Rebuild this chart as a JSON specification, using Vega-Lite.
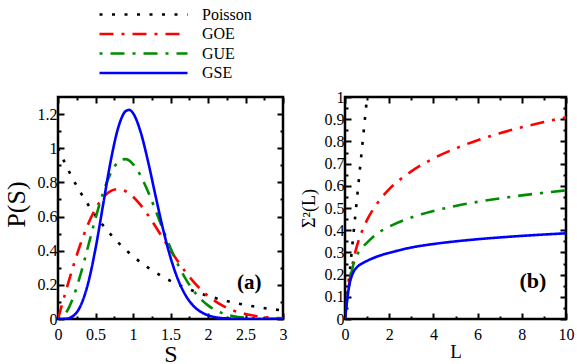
{
  "$schema": "https://vega.github.io/schema/vega-lite/v6.json",
  "padding": {"left": 1, "top": 5, "right": 5, "bottom": 2},
  "bounds": "flush",
  "spacing": 62,
  "background": "white",
  "config": {
    "view": {"stroke": "black", "strokeWidth": 2.5},
    "axis": {"grid": false, "domain": false, "labelFont": "Liberation Serif", "titleFont": "Liberation Serif", "labelFontSize": 16, "labelColor": "black", "titleColor": "black", "tickColor": "black", "tickWidth": 2, "titleFontWeight": "normal", "labelFlush": false, "labelOverlap": false, "format": "~r"},
    "legend": {"labelFont": "Liberation Serif", "labelFontSize": 16, "labelColor": "black", "rowPadding": 2}
  },
  "datasets": {
    "ps": [
      {"m": "Poisson", "S": 0, "P": 1}, {"m": "Poisson", "S": 0.2, "P": 0.8187}, {"m": "Poisson", "S": 0.4, "P": 0.6703}, {"m": "Poisson", "S": 0.6, "P": 0.5488}, {"m": "Poisson", "S": 0.8, "P": 0.4493}, {"m": "Poisson", "S": 1.0, "P": 0.3679}, {"m": "Poisson", "S": 1.2, "P": 0.3012}, {"m": "Poisson", "S": 1.4, "P": 0.2466}, {"m": "Poisson", "S": 1.6, "P": 0.2019}, {"m": "Poisson", "S": 1.8, "P": 0.1653}, {"m": "Poisson", "S": 2.0, "P": 0.1353}, {"m": "Poisson", "S": 2.2, "P": 0.1108}, {"m": "Poisson", "S": 2.4, "P": 0.0907}, {"m": "Poisson", "S": 2.6, "P": 0.0743}, {"m": "Poisson", "S": 2.8, "P": 0.0608}, {"m": "Poisson", "S": 3.0, "P": 0.0498},
      {"m": "GOE", "S": 0, "P": 0}, {"m": "GOE", "S": 0.1, "P": 0.1559}, {"m": "GOE", "S": 0.2, "P": 0.3044}, {"m": "GOE", "S": 0.3, "P": 0.4391}, {"m": "GOE", "S": 0.4, "P": 0.5541}, {"m": "GOE", "S": 0.5, "P": 0.6454}, {"m": "GOE", "S": 0.6, "P": 0.7103}, {"m": "GOE", "S": 0.7, "P": 0.7483}, {"m": "GOE", "S": 0.8, "P": 0.7601}, {"m": "GOE", "S": 0.9, "P": 0.7483}, {"m": "GOE", "S": 1.0, "P": 0.7162}, {"m": "GOE", "S": 1.1, "P": 0.668}, {"m": "GOE", "S": 1.2, "P": 0.6083}, {"m": "GOE", "S": 1.3, "P": 0.5415}, {"m": "GOE", "S": 1.4, "P": 0.4718}, {"m": "GOE", "S": 1.5, "P": 0.4025}, {"m": "GOE", "S": 1.6, "P": 0.3365}, {"m": "GOE", "S": 1.7, "P": 0.2759}, {"m": "GOE", "S": 1.8, "P": 0.222}, {"m": "GOE", "S": 1.9, "P": 0.1752}, {"m": "GOE", "S": 2.0, "P": 0.1358}, {"m": "GOE", "S": 2.1, "P": 0.1033}, {"m": "GOE", "S": 2.2, "P": 0.0772}, {"m": "GOE", "S": 2.3, "P": 0.0567}, {"m": "GOE", "S": 2.4, "P": 0.0409}, {"m": "GOE", "S": 2.5, "P": 0.029}, {"m": "GOE", "S": 2.6, "P": 0.0202}, {"m": "GOE", "S": 2.7, "P": 0.0138}, {"m": "GOE", "S": 2.8, "P": 0.0093}, {"m": "GOE", "S": 2.9, "P": 0.0062}, {"m": "GOE", "S": 3.0, "P": 0.004},
      {"m": "GUE", "S": 0, "P": 0}, {"m": "GUE", "S": 0.1, "P": 0.032}, {"m": "GUE", "S": 0.2, "P": 0.1233}, {"m": "GUE", "S": 0.3, "P": 0.2602}, {"m": "GUE", "S": 0.4, "P": 0.4232}, {"m": "GUE", "S": 0.5, "P": 0.5896}, {"m": "GUE", "S": 0.6, "P": 0.738}, {"m": "GUE", "S": 0.7, "P": 0.8513}, {"m": "GUE", "S": 0.8, "P": 0.9186}, {"m": "GUE", "S": 0.85, "P": 0.9336}, {"m": "GUE", "S": 0.9, "P": 0.9363}, {"m": "GUE", "S": 1.0, "P": 0.9076}, {"m": "GUE", "S": 1.1, "P": 0.8405}, {"m": "GUE", "S": 1.2, "P": 0.7464}, {"m": "GUE", "S": 1.3, "P": 0.6371}, {"m": "GUE", "S": 1.4, "P": 0.524}, {"m": "GUE", "S": 1.5, "P": 0.4159}, {"m": "GUE", "S": 1.6, "P": 0.3188}, {"m": "GUE", "S": 1.7, "P": 0.2364}, {"m": "GUE", "S": 1.8, "P": 0.1698}, {"m": "GUE", "S": 1.9, "P": 0.1181}, {"m": "GUE", "S": 2.0, "P": 0.0797}, {"m": "GUE", "S": 2.1, "P": 0.0521}, {"m": "GUE", "S": 2.2, "P": 0.033}, {"m": "GUE", "S": 2.3, "P": 0.0204}, {"m": "GUE", "S": 2.4, "P": 0.0122}, {"m": "GUE", "S": 2.5, "P": 0.0071}, {"m": "GUE", "S": 2.6, "P": 0.004}, {"m": "GUE", "S": 2.7, "P": 0.0022}, {"m": "GUE", "S": 2.8, "P": 0.0012}, {"m": "GUE", "S": 2.9, "P": 0.0006}, {"m": "GUE", "S": 3.0, "P": 0.0003},
      {"m": "GSE", "S": 0, "P": 0}, {"m": "GSE", "S": 0.1, "P": 0.0011}, {"m": "GSE", "S": 0.2, "P": 0.017}, {"m": "GSE", "S": 0.3, "P": 0.0766}, {"m": "GSE", "S": 0.4, "P": 0.2067}, {"m": "GSE", "S": 0.5, "P": 0.4116}, {"m": "GSE", "S": 0.6, "P": 0.6654}, {"m": "GSE", "S": 0.7, "P": 0.9185}, {"m": "GSE", "S": 0.8, "P": 1.1158}, {"m": "GSE", "S": 0.85, "P": 1.1798}, {"m": "GSE", "S": 0.9, "P": 1.2165}, {"m": "GSE", "S": 0.95, "P": 1.2248}, {"m": "GSE", "S": 1.0, "P": 1.2057}, {"m": "GSE", "S": 1.1, "P": 1.0977}, {"m": "GSE", "S": 1.2, "P": 0.9237}, {"m": "GSE", "S": 1.3, "P": 0.7224}, {"m": "GSE", "S": 1.4, "P": 0.5272}, {"m": "GSE", "S": 1.5, "P": 0.3606}, {"m": "GSE", "S": 1.6, "P": 0.2313}, {"m": "GSE", "S": 1.7, "P": 0.1397}, {"m": "GSE", "S": 1.8, "P": 0.0795}, {"m": "GSE", "S": 1.9, "P": 0.0428}, {"m": "GSE", "S": 2.0, "P": 0.0217}, {"m": "GSE", "S": 2.1, "P": 0.0104}, {"m": "GSE", "S": 2.2, "P": 0.0047}, {"m": "GSE", "S": 2.3, "P": 0.002}, {"m": "GSE", "S": 2.4, "P": 0.0008}, {"m": "GSE", "S": 2.5, "P": 0.0003}, {"m": "GSE", "S": 2.6, "P": 0.0001}, {"m": "GSE", "S": 2.8, "P": 0}, {"m": "GSE", "S": 3.0, "P": 0}
    ],
    "sig": [
      {"m": "Poisson", "L": 0, "V": 0}, {"m": "Poisson", "L": 1, "V": 1},
      {"m": "GOE", "L": 0, "V": 0}, {"m": "GOE", "L": 0.05, "V": 0.0476}, {"m": "GOE", "L": 0.1, "V": 0.0905}, {"m": "GOE", "L": 0.2, "V": 0.1643}, {"m": "GOE", "L": 0.3, "V": 0.2245}, {"m": "GOE", "L": 0.4, "V": 0.2737}, {"m": "GOE", "L": 0.5, "V": 0.3144}, {"m": "GOE", "L": 0.6, "V": 0.3486}, {"m": "GOE", "L": 0.75, "V": 0.391}, {"m": "GOE", "L": 1, "V": 0.4463}, {"m": "GOE", "L": 1.5, "V": 0.5264}, {"m": "GOE", "L": 2, "V": 0.5849}, {"m": "GOE", "L": 3, "V": 0.6647}, {"m": "GOE", "L": 4, "V": 0.723}, {"m": "GOE", "L": 5, "V": 0.7682}, {"m": "GOE", "L": 6, "V": 0.8051}, {"m": "GOE", "L": 7, "V": 0.8364}, {"m": "GOE", "L": 8, "V": 0.8634}, {"m": "GOE", "L": 9, "V": 0.8873}, {"m": "GOE", "L": 10, "V": 0.9086},
      {"m": "GUE", "L": 0, "V": 0}, {"m": "GUE", "L": 0.05, "V": 0.0475}, {"m": "GUE", "L": 0.1, "V": 0.0901}, {"m": "GUE", "L": 0.2, "V": 0.1609}, {"m": "GUE", "L": 0.3, "V": 0.2142}, {"m": "GUE", "L": 0.4, "V": 0.2529}, {"m": "GUE", "L": 0.5, "V": 0.2802}, {"m": "GUE", "L": 0.6, "V": 0.2993}, {"m": "GUE", "L": 0.75, "V": 0.3191}, {"m": "GUE", "L": 1, "V": 0.3442}, {"m": "GUE", "L": 1.5, "V": 0.388}, {"m": "GUE", "L": 2, "V": 0.4157}, {"m": "GUE", "L": 3, "V": 0.4573}, {"m": "GUE", "L": 4, "V": 0.4865}, {"m": "GUE", "L": 5, "V": 0.5091}, {"m": "GUE", "L": 6, "V": 0.5276}, {"m": "GUE", "L": 7, "V": 0.5432}, {"m": "GUE", "L": 8, "V": 0.5567}, {"m": "GUE", "L": 9, "V": 0.5687}, {"m": "GUE", "L": 10, "V": 0.5793},
      {"m": "GSE", "L": 0, "V": 0}, {"m": "GSE", "L": 0.05, "V": 0.046}, {"m": "GSE", "L": 0.1, "V": 0.088}, {"m": "GSE", "L": 0.2, "V": 0.155}, {"m": "GSE", "L": 0.3, "V": 0.192}, {"m": "GSE", "L": 0.4, "V": 0.215}, {"m": "GSE", "L": 0.5, "V": 0.229}, {"m": "GSE", "L": 0.6, "V": 0.239}, {"m": "GSE", "L": 0.75, "V": 0.249}, {"m": "GSE", "L": 1, "V": 0.262}, {"m": "GSE", "L": 1.5, "V": 0.283}, {"m": "GSE", "L": 2, "V": 0.298}, {"m": "GSE", "L": 3, "V": 0.322}, {"m": "GSE", "L": 4, "V": 0.3377}, {"m": "GSE", "L": 5, "V": 0.3497}, {"m": "GSE", "L": 6, "V": 0.3593}, {"m": "GSE", "L": 7, "V": 0.3674}, {"m": "GSE", "L": 8, "V": 0.3744}, {"m": "GSE", "L": 9, "V": 0.3805}, {"m": "GSE", "L": 10, "V": 0.386}
    ]
  },
  "hconcat": [
    {
      "width": 225,
      "height": 222,
      "layer": [
        {
          "data": {"name": "ps"},
          "mark": {"type": "line", "strokeWidth": 2.6, "interpolate": "monotone", "clip": true},
          "encoding": {
            "x": {"field": "S", "type": "quantitative", "scale": {"domain": [0, 3], "nice": false, "zero": false},
              "axis": {"orient": "bottom", "values": [0, 0.25, 0.5, 0.75, 1, 1.25, 1.5, 1.75, 2, 2.25, 2.5, 2.75, 3], "labelExpr": "datum.value % 0.5 == 0 ? datum.label : ''", "tickSize": {"condition": {"test": "datum.value % 0.5 == 0", "value": -6}, "value": -3}, "labelPadding": 13, "title": "S", "titleFontSize": 24, "titlePadding": -3}},
            "y": {"field": "P", "type": "quantitative", "scale": {"domain": [0, 1.3], "nice": false},
              "axis": {"orient": "left", "values": [0, 0.1, 0.2, 0.3, 0.4, 0.5, 0.6, 0.7, 0.8, 0.9, 1, 1.1, 1.2], "labelExpr": "abs(datum.value/0.2 - round(datum.value/0.2)) < 0.000001 ? datum.label : ''", "tickSize": {"condition": {"test": "abs(datum.value/0.2 - round(datum.value/0.2)) < 0.000001", "value": -6}, "value": -3}, "labelPadding": 7, "title": "P(S)", "titleFontSize": 26, "titlePadding": 8, "titleY": 107}},
            "color": {"field": "m", "type": "nominal", "scale": {"domain": ["Poisson", "GOE", "GUE", "GSE"], "range": ["#000000", "#ff0000", "#008b00", "#0000ff"]},
              "legend": {"title": null, "orient": "none", "legendX": 76, "legendY": -92, "symbolType": "M-5.5,0H5.5", "symbolSize": 256, "symbolStrokeWidth": 2.6, "labelOffset": 49, "labelFont": "Liberation Serif", "labelFontSize": 16, "labelColor": "black", "rowPadding": 1.5}},
            "strokeDash": {"field": "m", "type": "nominal", "scale": {"domain": ["Poisson", "GOE", "GUE", "GSE"], "range": [[3, 9.5], [14, 8, 3, 8], [3, 8, 14, 8], [1, 0]]},
              "legend": {"title": null, "orient": "none", "legendX": 76, "legendY": -92, "symbolType": "M-5.5,0H5.5", "symbolSize": 256, "symbolStrokeWidth": 2.6, "labelOffset": 49, "labelFont": "Liberation Serif", "labelFontSize": 16, "labelColor": "black", "rowPadding": 1.5}}
          }
        },
        {
          "data": {"values": [{}]},
          "mark": {"type": "text", "font": "Liberation Serif", "fontSize": 21, "fontWeight": "bold", "color": "black"},
          "encoding": {
            "x": {"datum": 2.55, "type": "quantitative", "scale": {"domain": [0, 3], "nice": false, "zero": false},
              "axis": {"orient": "top", "values": [0, 0.25, 0.5, 0.75, 1, 1.25, 1.5, 1.75, 2, 2.25, 2.5, 2.75, 3], "labels": false, "tickSize": {"condition": {"test": "datum.value % 0.5 == 0", "value": -6}, "value": -3}, "title": null}},
            "y": {"datum": 0.21, "type": "quantitative", "scale": {"domain": [0, 1.3], "nice": false},
              "axis": {"orient": "right", "values": [0, 0.1, 0.2, 0.3, 0.4, 0.5, 0.6, 0.7, 0.8, 0.9, 1, 1.1, 1.2], "labels": false, "tickSize": {"condition": {"test": "abs(datum.value/0.2 - round(datum.value/0.2)) < 0.000001", "value": -6}, "value": -3}, "title": null}},
            "text": {"value": "(a)"}
          }
        }
      ]
    },
    {
      "width": 221,
      "height": 222,
      "layer": [
        {
          "data": {"name": "sig"},
          "mark": {"type": "line", "strokeWidth": 2.6, "interpolate": "monotone", "clip": true},
          "encoding": {
            "x": {"field": "L", "type": "quantitative", "scale": {"domain": [0, 10], "nice": false, "zero": false},
              "axis": {"orient": "bottom", "values": [0, 1, 2, 3, 4, 5, 6, 7, 8, 9, 10], "labelExpr": "datum.value % 2 == 0 ? datum.label : ''", "tickSize": {"condition": {"test": "datum.value % 2 == 0", "value": -6}, "value": -3}, "labelPadding": 13, "title": "L", "titleFontSize": 19, "titlePadding": -3}},
            "y": {"field": "V", "type": "quantitative", "scale": {"domain": [0, 1], "nice": false},
              "axis": {"orient": "left", "values": [0, 0.05, 0.1, 0.15, 0.2, 0.25, 0.3, 0.35, 0.4, 0.45, 0.5, 0.55, 0.6, 0.65, 0.7, 0.75, 0.8, 0.85, 0.9, 0.95, 1], "labelExpr": "abs(datum.value*10 - round(datum.value*10)) < 0.000001 ? datum.label : ''", "tickSize": {"condition": {"test": "abs(datum.value*10 - round(datum.value*10)) < 0.000001", "value": -6}, "value": -3}, "labelPadding": 7, "title": "Σ²(L)", "titleFontSize": 18, "titlePadding": 6}},
            "color": {"field": "m", "type": "nominal", "scale": {"domain": ["Poisson", "GOE", "GUE", "GSE"], "range": ["#000000", "#ff0000", "#008b00", "#0000ff"]}, "legend": null},
            "strokeDash": {"field": "m", "type": "nominal", "scale": {"domain": ["Poisson", "GOE", "GUE", "GSE"], "range": [[3, 9.5], [14, 8, 3, 8], [3, 8, 14, 8], [1, 0]]}, "legend": null}
          }
        },
        {
          "data": {"values": [{}]},
          "mark": {"type": "text", "font": "Liberation Serif", "fontSize": 22, "fontWeight": "bold", "color": "black"},
          "encoding": {
            "x": {"datum": 8.5, "type": "quantitative", "scale": {"domain": [0, 10], "nice": false, "zero": false},
              "axis": {"orient": "top", "values": [0, 1, 2, 3, 4, 5, 6, 7, 8, 9, 10], "labels": false, "tickSize": {"condition": {"test": "datum.value % 2 == 0", "value": -6}, "value": -3}, "title": null}},
            "y": {"datum": 0.17, "type": "quantitative", "scale": {"domain": [0, 1], "nice": false},
              "axis": {"orient": "right", "values": [0, 0.05, 0.1, 0.15, 0.2, 0.25, 0.3, 0.35, 0.4, 0.45, 0.5, 0.55, 0.6, 0.65, 0.7, 0.75, 0.8, 0.85, 0.9, 0.95, 1], "labels": false, "tickSize": {"condition": {"test": "abs(datum.value*10 - round(datum.value*10)) < 0.000001", "value": -6}, "value": -3}, "title": null}},
            "text": {"value": "(b)"}
          }
        }
      ]
    }
  ]
}
